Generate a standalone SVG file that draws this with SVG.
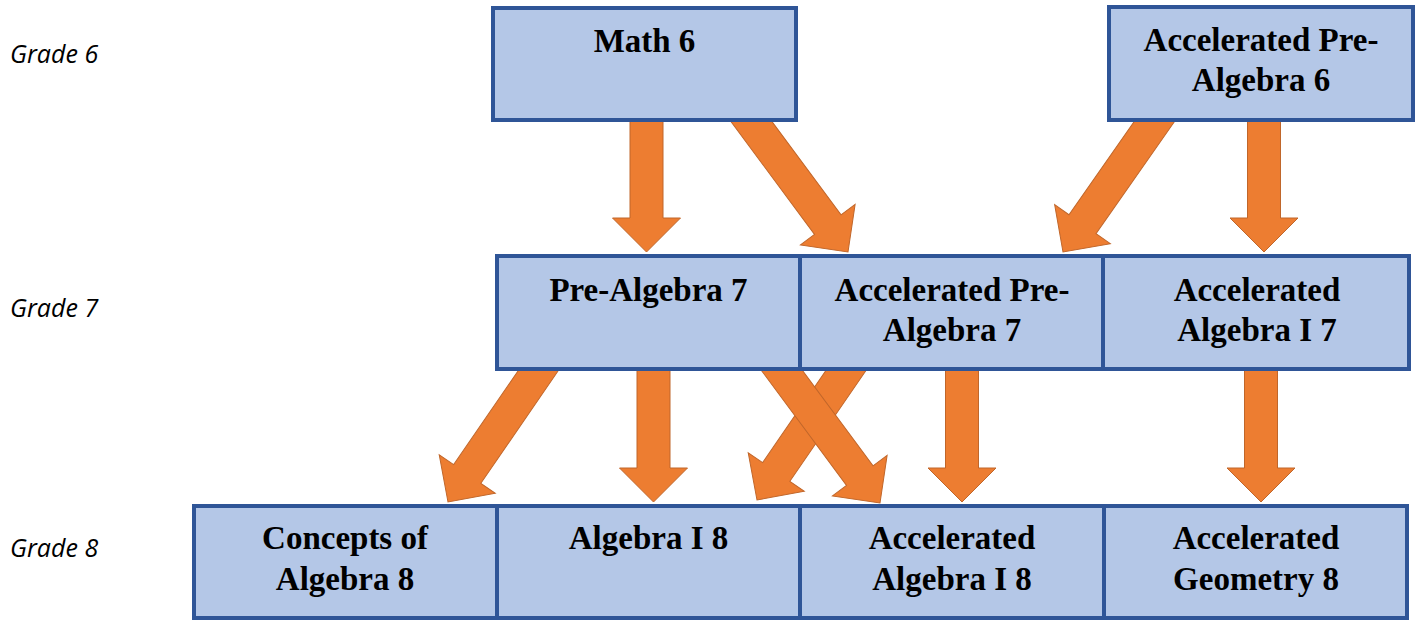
<svg xmlns="http://www.w3.org/2000/svg" width="1421" height="621" viewBox="0 0 1421 621">
<style>
.box{fill:#B4C7E7;stroke:#2F5597;stroke-width:4}
.t{font-family:"Liberation Serif","Times New Roman",serif;font-weight:bold;font-size:33px;fill:#000;text-anchor:middle}
.g{font-family:"Open Sans","Liberation Sans",sans-serif;font-style:italic;font-size:25px;fill:#000}
.arr{fill:#ED7D31;stroke:#C0662A;stroke-width:1}
</style>
<rect width="1421" height="621" fill="#fff"/>
<g id="labels">
<text class="g" x="10" y="63">Grade 6</text>
<text class="g" x="10" y="317">Grade 7</text>
<text class="g" x="10" y="557">Grade 8</text>
</g>
<g id="connectors">
<path class="arr" transform="translate(646.5,252)" d="M-16.5,-140 L16.5,-140 L16.5,-34 L34,-34 L0,0 L-34,-34 L-16.5,-34 Z"/>
<path class="arr" transform="translate(848,252) rotate(-36.5)" d="M-16.5,-185 L16.5,-185 L16.5,-34 L34,-34 L0,0 L-34,-34 L-16.5,-34 Z"/>
<path class="arr" transform="translate(1063,252) rotate(35)" d="M-16.5,-185 L16.5,-185 L16.5,-34 L34,-34 L0,0 L-34,-34 L-16.5,-34 Z"/>
<path class="arr" transform="translate(1264,252)" d="M-16.5,-140 L16.5,-140 L16.5,-34 L34,-34 L0,0 L-34,-34 L-16.5,-34 Z"/>
<path class="arr" transform="translate(448,502) rotate(34.5)" d="M-16.5,-180 L16.5,-180 L16.5,-34 L34,-34 L0,0 L-34,-34 L-16.5,-34 Z"/>
<path class="arr" transform="translate(653.5,502)" d="M-16.5,-145 L16.5,-145 L16.5,-34 L34,-34 L0,0 L-34,-34 L-16.5,-34 Z"/>
<path class="arr" transform="translate(757,500) rotate(34.5)" d="M-16.5,-180 L16.5,-180 L16.5,-34 L34,-34 L0,0 L-34,-34 L-16.5,-34 Z"/>
<path class="arr" transform="translate(880,503) rotate(-36.5)" d="M-16.5,-185 L16.5,-185 L16.5,-34 L34,-34 L0,0 L-34,-34 L-16.5,-34 Z"/>
<path class="arr" transform="translate(962,502)" d="M-16.5,-145 L16.5,-145 L16.5,-34 L34,-34 L0,0 L-34,-34 L-16.5,-34 Z"/>
<path class="arr" transform="translate(1261,502)" d="M-16.5,-145 L16.5,-145 L16.5,-34 L34,-34 L0,0 L-34,-34 L-16.5,-34 Z"/>
</g>
<g id="math6"><rect class="box" x="493" y="8" width="303" height="112"/><text class="t" x="644.5" y="52">Math 6</text></g>
<g id="apa6"><rect class="box" x="1109" y="7" width="304" height="113"/><text class="t" x="1261" y="51">Accelerated Pre-</text><text class="t" x="1261" y="91">Algebra 6</text></g>
<g id="pa7"><rect class="box" x="497" y="256" width="303" height="113"/><text class="t" x="648.5" y="301">Pre-Algebra 7</text></g>
<g id="apa7"><rect class="box" x="800" y="256" width="303" height="113"/><text class="t" x="952" y="301">Accelerated Pre-</text><text class="t" x="952" y="341">Algebra 7</text></g>
<g id="aai7"><rect class="box" x="1103" y="256" width="306" height="113"/><text class="t" x="1257" y="301">Accelerated</text><text class="t" x="1257" y="341">Algebra I 7</text></g>
<g id="coa8"><rect class="box" x="194" y="506" width="303" height="112"/><text class="t" x="345" y="549">Concepts of</text><text class="t" x="345" y="590">Algebra 8</text></g>
<g id="ai8"><rect class="box" x="497" y="506" width="303" height="112"/><text class="t" x="648.5" y="549">Algebra I 8</text></g>
<g id="aai8"><rect class="box" x="800" y="506" width="304" height="112"/><text class="t" x="952" y="549">Accelerated</text><text class="t" x="952" y="590">Algebra I 8</text></g>
<g id="ag8"><rect class="box" x="1104" y="506" width="303" height="112"/><text class="t" x="1256" y="549">Accelerated</text><text class="t" x="1256" y="590">Geometry 8</text></g>
</svg>
